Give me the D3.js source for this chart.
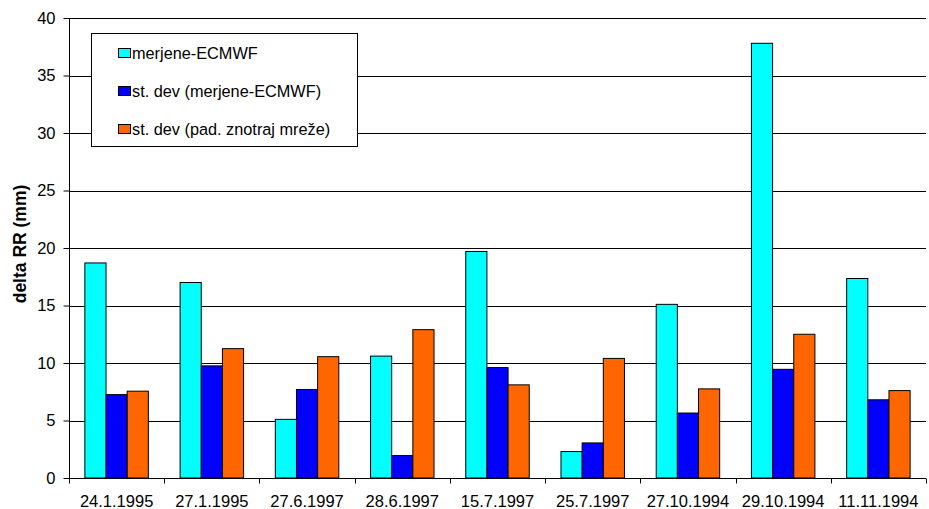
<!DOCTYPE html>
<html>
<head>
<meta charset="utf-8">
<script src="https://cdn.jsdelivr.net/npm/d3@7"></script>
<style>
  html, body { margin: 0; padding: 0; background: #fff; }
  svg { display: block; font-family: "Liberation Sans", Arial, sans-serif; }
</style>
</head>
<body>
<svg id="chart" width="929" height="509"></svg>
<script>
// Dates of the cases
const categories = ["24.1.1995", "27.1.1995", "27.6.1997", "28.6.1997", "15.7.1997",
                    "25.7.1997", "27.10.1994", "29.10.1994", "11.11.1994"];
// Series names
const seriesNames = ["merjene-ECMWF", "st. dev (merjene-ECMWF)", "st. dev (pad. znotraj mreže)"];
// Series values (mm)
const diffValues  = [18.7, 17.0, 5.1, 10.6, 19.7, 2.3, 15.1, 37.8, 17.35];
const sdDiff      = [7.25, 9.75, 7.7, 1.95, 9.6, 3.05, 5.65, 9.45, 6.8];
const sdGrid      = [7.55, 11.25, 10.55, 12.9, 8.1, 10.4, 7.75, 12.5, 7.6];
const seriesColors = ["#00FFFF", "#0000FF", "#FF6600"];
const yTicks = [0, 5, 10, 15, 20, 25, 30, 35, 40];

const series = [diffValues, sdDiff, sdGrid];

const svg = d3.select("#chart");
const margin = { left: 69, right: 3, top: 18, bottom: 31 };
const W = 929, H = 509;

const x = d3.scaleBand().domain(categories)
  .range([margin.left, W - margin.right]).padding(0);
const y = d3.scaleLinear().domain([0, 40]).range([H - margin.bottom, margin.top]);

// Horizontal grid lines
svg.append("g")
  .selectAll("line")
  .data(yTicks.filter(d => d > 0))
  .join("line")
  .attr("x1", margin.left).attr("x2", W - margin.right)
  .attr("y1", d => Math.round(y(d)) + 0.5).attr("y2", d => Math.round(y(d)) + 0.5)
  .attr("stroke", "#000").attr("stroke-width", 1);

// Bars
const bw = x.bandwidth() / 4.5;
const groupOffset = (x.bandwidth() - 3 * bw) / 2;
const bars = svg.append("g");
series.forEach((vals, si) => {
  bars.append("g")
    .selectAll("rect")
    .data(vals)
    .join("rect")
    .attr("x", (d, i) => x(categories[i]) + groupOffset + si * bw)
    .attr("y", d => y(d))
    .attr("width", bw)
    .attr("height", d => y(0) - y(d))
    .attr("fill", seriesColors[si])
    .attr("stroke", "#000")
    .attr("stroke-width", 1);
});

// Y axis
const yAxis = svg.append("g")
  .attr("transform", `translate(${margin.left + 0.5},0)`)
  .call(d3.axisLeft(y).tickValues(yTicks).tickSize(6).tickPadding(8).tickFormat(d3.format("d")));
yAxis.selectAll("text").attr("font-size", 16.5).attr("fill", "#000")
  .attr("font-family", "Liberation Sans, Arial, sans-serif");
yAxis.selectAll("line, path").attr("stroke", "#000");
yAxis.select(".domain").attr("d", `M0,${y(40)}V${y(0)}`);

// X axis with ticks between categories
const xAxisG = svg.append("g")
  .attr("transform", `translate(0,${Math.round(y(0)) + 0.5})`);
xAxisG.append("line")
  .attr("x1", margin.left).attr("x2", W - margin.right)
  .attr("stroke", "#000");
xAxisG.selectAll("line.tick")
  .data(categories.map((c, i) => i).concat([categories.length]))
  .join("line")
  .attr("class", "tick")
  .attr("x1", i => Math.round(margin.left + i * x.step()) + 0.5)
  .attr("x2", i => Math.round(margin.left + i * x.step()) + 0.5)
  .attr("y1", 0).attr("y2", 5)
  .attr("stroke", "#000");
xAxisG.selectAll("text")
  .data(categories)
  .join("text")
  .attr("x", d => x(d) + x.bandwidth() / 2)
  .attr("y", 28)
  .attr("text-anchor", "middle")
  .attr("font-size", 16.5)
  .attr("fill", "#000")
  .text(d => d);

// Y axis title
svg.append("text")
  .attr("transform", `translate(26,${(y(0) + y(40)) / 2 - 4}) rotate(-90)`)
  .attr("text-anchor", "middle")
  .attr("font-size", 17.5)
  .attr("font-weight", "bold")
  .text("delta RR (mm)");

// Legend
const lg = svg.append("g");
lg.append("rect")
  .attr("x", 91.5).attr("y", 33.5).attr("width", 266).attr("height", 113)
  .attr("fill", "#fff").attr("stroke", "#000");
seriesNames.forEach((name, i) => {
  const cy = 53 + i * 38;
  lg.append("rect")
    .attr("x", 118.5).attr("y", cy - 4.5).attr("width", 12).attr("height", 9)
    .attr("fill", seriesColors[i]).attr("stroke", "#000");
  lg.append("text")
    .attr("x", 132).attr("y", cy + 5.5)
    .attr("font-size", 16.3)
    .text(name);
});
</script>
</body>
</html>
